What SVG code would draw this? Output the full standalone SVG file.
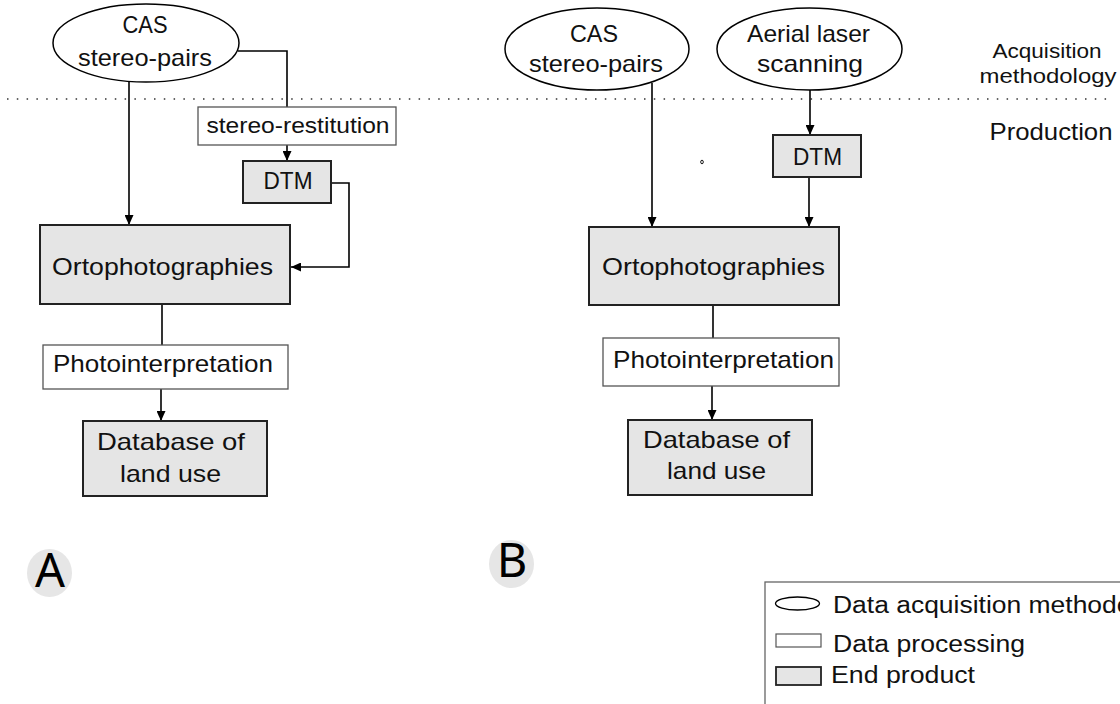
<svg xmlns="http://www.w3.org/2000/svg" width="1120" height="704" viewBox="0 0 1120 704">
  <defs>
    <marker id="arrow" markerUnits="userSpaceOnUse" markerWidth="10" markerHeight="9" refX="10" refY="4.5" orient="auto">
      <path d="M0,0 L10,4.5 L0,9 z" fill="#000"/>
    </marker>
    <style>
      text { font-family: "Liberation Sans", Arial, sans-serif; fill: #111; }
      .lbl { font-size: 24px; text-anchor: middle; }
      .sm { font-size: 22px; text-anchor: middle; }
      .acq { fill: #fff; stroke: #000; stroke-width: 1.5; }
      .proc { fill: #fff; stroke: #555; stroke-width: 1.3; }
      .prod { fill: #e5e5e5; stroke: #222; stroke-width: 2; }
      .wire { fill: none; stroke: #000; stroke-width: 1.6; }
      .badge { fill: #e6e6e6; }
      .big { font-family: "Noto Sans", "DejaVu Sans", sans-serif; font-size: 47px; text-anchor: middle; fill: #000; }
    </style>
  </defs>

  <rect width="1120" height="704" fill="#fff"/>

  <!-- separator between acquisition and production -->
  <line x1="7" y1="99" x2="1110" y2="99" stroke="#333" stroke-width="1.5" stroke-dasharray="1.5 8.3"/>
  <text x="1047" y="58" style="font-size:21px" text-anchor="middle" textLength="109" lengthAdjust="spacingAndGlyphs">Acquisition</text>
  <text x="1048" y="83" style="font-size:21px" text-anchor="middle" textLength="137" lengthAdjust="spacingAndGlyphs">methodology</text>
  <text x="1051" y="140" style="font-size:24px" text-anchor="middle" textLength="123" lengthAdjust="spacingAndGlyphs">Production</text>

  <!-- connectors -->
  <g id="connectors">
    <path class="wire" d="M129,82 V225" marker-end="url(#arrow)"/>
    <path class="wire" d="M238,51 H287 V107"/>
    <path class="wire" d="M287,145 V161" marker-end="url(#arrow)"/>
    <path class="wire" d="M331,183 H349 V267 H291" marker-end="url(#arrow)"/>
    <path class="wire" d="M162,304 V345"/>
    <path class="wire" d="M161,389 V421" marker-end="url(#arrow)"/>

    <path class="wire" d="M652,83 V227" marker-end="url(#arrow)"/>
    <path class="wire" d="M810,90 V135" marker-end="url(#arrow)"/>
    <path class="wire" d="M809,177 V227" marker-end="url(#arrow)"/>
    <path class="wire" d="M713,305 V338"/>
    <path class="wire" d="M712,386 V420" marker-end="url(#arrow)"/>
  </g>

  <!-- scheme A -->
  <g id="a-cas">
    <ellipse class="acq" cx="146" cy="43" rx="93" ry="39"/>
    <text class="lbl" x="145" y="33" textLength="45" lengthAdjust="spacingAndGlyphs">CAS</text>
    <text class="lbl" x="145" y="66" textLength="134" lengthAdjust="spacingAndGlyphs">stereo-pairs</text>
  </g>
  <g id="a-restitution">
    <rect class="proc" x="198" y="107" width="198" height="38"/>
    <text class="sm" x="298" y="133" textLength="183" lengthAdjust="spacingAndGlyphs">stereo-restitution</text>
  </g>
  <g id="a-dtm">
    <rect class="prod" x="243" y="161" width="88" height="42"/>
    <text class="lbl" x="288" y="189" textLength="49" lengthAdjust="spacingAndGlyphs">DTM</text>
  </g>
  <g id="a-ortho">
    <rect class="prod" x="40" y="225" width="250" height="79"/>
    <text class="lbl" x="162.5" y="275" textLength="221" lengthAdjust="spacingAndGlyphs">Ortophotographies</text>
  </g>
  <g id="a-photo">
    <rect class="proc" x="43" y="345" width="245" height="44"/>
    <text class="lbl" x="163" y="372" textLength="220" lengthAdjust="spacingAndGlyphs">Photointerpretation</text>
  </g>
  <g id="a-db">
    <rect class="prod" x="83" y="421" width="184" height="75"/>
    <text class="lbl" x="171" y="450" textLength="148" lengthAdjust="spacingAndGlyphs">Database of</text>
    <text class="lbl" x="170.5" y="482" textLength="101" lengthAdjust="spacingAndGlyphs">land use</text>
  </g>

  <!-- scheme B -->
  <g id="b-cas">
    <ellipse class="acq" cx="597" cy="49" rx="92" ry="41"/>
    <text class="lbl" x="594" y="42" textLength="48" lengthAdjust="spacingAndGlyphs">CAS</text>
    <text class="lbl" x="596" y="72" textLength="134" lengthAdjust="spacingAndGlyphs">stereo-pairs</text>
  </g>
  <g id="b-laser">
    <ellipse class="acq" cx="809.5" cy="49" rx="92.5" ry="41"/>
    <text class="lbl" x="808.5" y="42" textLength="123" lengthAdjust="spacingAndGlyphs">Aerial laser</text>
    <text class="lbl" x="810" y="72" textLength="106" lengthAdjust="spacingAndGlyphs">scanning</text>
  </g>
  <g id="b-dtm">
    <rect class="prod" x="773" y="135" width="88" height="42"/>
    <text class="lbl" x="817.5" y="165" textLength="49" lengthAdjust="spacingAndGlyphs">DTM</text>
  </g>
  <ellipse cx="702" cy="162" rx="1.3" ry="1.8" fill="none" stroke="#000" stroke-width="0.9"/>
  <g id="b-ortho">
    <rect class="prod" x="589" y="227" width="250" height="78"/>
    <text class="lbl" x="713.5" y="275" textLength="223" lengthAdjust="spacingAndGlyphs">Ortophotographies</text>
  </g>
  <g id="b-photo">
    <rect class="proc" x="603" y="338" width="236" height="48"/>
    <text class="lbl" x="723.5" y="368" textLength="221" lengthAdjust="spacingAndGlyphs">Photointerpretation</text>
  </g>
  <g id="b-db">
    <rect class="prod" x="628" y="420" width="184" height="75"/>
    <text class="lbl" x="716.5" y="448" textLength="147" lengthAdjust="spacingAndGlyphs">Database of</text>
    <text class="lbl" x="716.5" y="479" textLength="99" lengthAdjust="spacingAndGlyphs">land use</text>
  </g>

  <!-- scheme badges -->
  <g id="badge-a">
    <ellipse class="badge" cx="49.5" cy="573" rx="22.5" ry="24"/>
    <text class="big" x="50" y="587">A</text>
  </g>
  <g id="badge-b">
    <ellipse class="badge" cx="511.5" cy="564" rx="22.5" ry="24"/>
    <text class="big" x="512" y="577">B</text>
  </g>

  <!-- legend -->
  <g id="legend">
    <rect x="765" y="582" width="420" height="160" fill="#fff" stroke="#666" stroke-width="1.3"/>
    <ellipse cx="797.5" cy="603.5" rx="22" ry="6.5" fill="#fff" stroke="#000" stroke-width="1.3"/>
    <text x="833" y="613" style="font-size:23px" textLength="347" lengthAdjust="spacingAndGlyphs">Data acquisition methodology</text>
    <rect x="776" y="634" width="45" height="13" fill="#fff" stroke="#555" stroke-width="1.2"/>
    <text x="833" y="652" style="font-size:23px" textLength="192" lengthAdjust="spacingAndGlyphs">Data processing</text>
    <rect x="776" y="667" width="45" height="18" fill="#e5e5e5" stroke="#222" stroke-width="1.8"/>
    <text x="831" y="683" style="font-size:23px" textLength="144" lengthAdjust="spacingAndGlyphs">End product</text>
  </g>
</svg>
